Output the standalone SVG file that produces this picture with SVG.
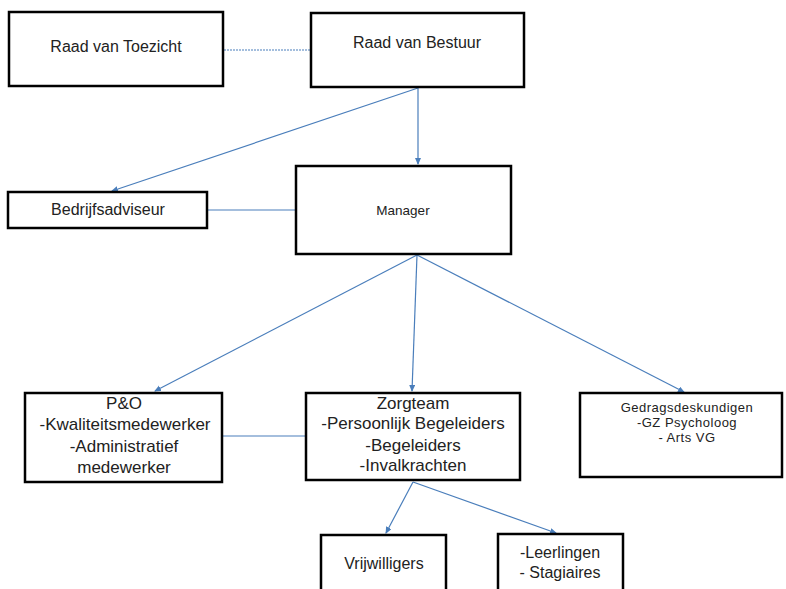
<svg xmlns="http://www.w3.org/2000/svg" width="786" height="589" viewBox="0 0 786 589">
<defs>
<marker id="ah" markerWidth="8" markerHeight="8" refX="6" refY="3" orient="auto" markerUnits="userSpaceOnUse">
<path d="M0,0 L7,3 L0,6 Z" fill="#4a7ebb"/>
</marker>
</defs>
<style>
.box{fill:#fff;stroke:#000;stroke-width:2.5}
.t{font-family:"Liberation Sans",Arial,sans-serif;font-size:16px;fill:#222;text-anchor:middle}
.m{font-size:17px}
.s{font-size:13.5px}
.g{font-size:13px;letter-spacing:0.5px}
.c{stroke:#4a7ebb;stroke-width:1.2;fill:none}
</style>
<rect width="786" height="589" fill="#fff"/>
<g id="connectors">
<line class="c" x1="224" y1="50" x2="311" y2="50" stroke-dasharray="2,1"/>
<line class="c" x1="418" y1="88" x2="418" y2="164" marker-end="url(#ah)"/>
<line class="c" x1="418" y1="88" x2="112" y2="191" marker-end="url(#ah)"/>
<line class="c" x1="208" y1="210" x2="296" y2="210"/>
<line class="c" x1="417" y1="255" x2="155" y2="391" marker-end="url(#ah)"/>
<line class="c" x1="417" y1="255" x2="412" y2="391" marker-end="url(#ah)"/>
<line class="c" x1="417" y1="255" x2="684" y2="392" marker-end="url(#ah)"/>
<line class="c" x1="222" y1="436" x2="306" y2="436"/>
<line class="c" x1="413" y1="482" x2="386" y2="533" marker-end="url(#ah)"/>
<line class="c" x1="413" y1="482" x2="556" y2="533" marker-end="url(#ah)"/>
</g>
<g id="raad-van-toezicht">
<rect class="box" x="9" y="12" width="214" height="74"/>
<text class="t" x="116" y="52">Raad van Toezicht</text>
</g>
<g id="raad-van-bestuur">
<rect class="box" x="311" y="13" width="213" height="74"/>
<text class="t" x="417" y="48">Raad van Bestuur</text>
</g>
<g id="bedrijfsadviseur">
<rect class="box" x="8" y="192" width="199" height="36"/>
<text class="t" x="108" y="215">Bedrijfsadviseur</text>
</g>
<g id="manager">
<rect class="box" x="296" y="166" width="215" height="88"/>
<text class="t s" x="403" y="215">Manager</text>
</g>
<g id="p-en-o">
<rect class="box" x="25" y="393" width="197" height="89"/>
<text class="t m" x="124" y="409">P&amp;O</text>
<text class="t m" x="125" y="430">-Kwaliteitsmedewerker</text>
<text class="t m" x="124" y="452">-Administratief</text>
<text class="t m" x="124" y="473">medewerker</text>
</g>
<g id="zorgteam">
<rect class="box" x="306" y="393" width="214" height="87"/>
<text class="t m" x="413" y="409">Zorgteam</text>
<text class="t m" x="413" y="429">-Persoonlijk Begeleiders</text>
<text class="t m" x="413" y="451">-Begeleiders</text>
<text class="t m" x="413" y="471">-Invalkrachten</text>
</g>
<g id="gedragsdeskundigen">
<rect class="box" x="580" y="393" width="202" height="84"/>
<text class="t g" x="687" y="412">Gedragsdeskundigen</text>
<text class="t g" x="687" y="427">-GZ Psycholoog</text>
<text class="t g" x="687" y="442">- Arts VG</text>
</g>
<g id="vrijwilligers">
<rect class="box" x="321" y="535" width="125" height="60"/>
<text class="t" x="384" y="569">Vrijwilligers</text>
</g>
<g id="leerlingen">
<rect class="box" x="498" y="534" width="125" height="60"/>
<text class="t" x="560" y="558">-Leerlingen</text>
<text class="t" x="560" y="578">- Stagiaires</text>
</g>
</svg>
